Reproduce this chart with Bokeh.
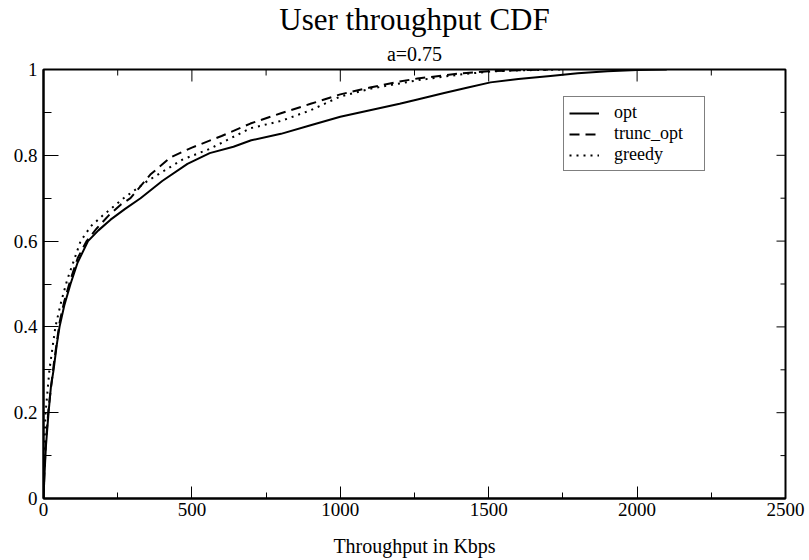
from bokeh.plotting import figure
from bokeh.models import Title, LinearAxis, FixedTicker, Legend, LegendItem, Range1d
from bokeh.embed import file_html
from bokeh.resources import INLINE

# ---- data ----
opt_x = [0, 3, 8, 17, 25, 34, 45, 54, 70, 91, 115, 150, 185, 226, 275, 327, 400, 485, 560,
         640, 700, 800, 900, 1000, 1100, 1200, 1260, 1350, 1430, 1506, 1600, 1708, 1800,
         1900, 2000, 2100]
opt_y = [0, 0.05, 0.12, 0.2, 0.26, 0.3, 0.36, 0.4, 0.45, 0.5, 0.55, 0.6, 0.625, 0.65, 0.675,
         0.7, 0.74, 0.78, 0.805, 0.82, 0.835, 0.85, 0.87, 0.89, 0.905, 0.92, 0.93, 0.945,
         0.958, 0.97, 0.978, 0.985, 0.991, 0.996, 0.999, 1.0]

trunc_x = [0, 3, 8, 17, 34, 54, 70, 91, 115, 145, 180, 220, 260, 293, 360, 428, 500, 600,
           697, 800, 900, 1000, 1100, 1200, 1260, 1394, 1500, 1600, 1700]
trunc_y = [0, 0.06, 0.13, 0.21, 0.31, 0.41, 0.46, 0.51, 0.56, 0.6, 0.63, 0.66, 0.685, 0.7,
           0.755, 0.795, 0.818, 0.845, 0.874, 0.898, 0.92, 0.942, 0.958, 0.972, 0.979, 0.99,
           0.996, 0.998, 1.0]

greedy_x = [0, 2, 7, 20, 40, 60, 80, 100, 125, 160, 200, 270, 350, 468, 560, 697, 800, 900,
            1000, 1100, 1260, 1400, 1500, 1600, 1750]
greedy_y = [0, 0.1, 0.2, 0.3, 0.4, 0.46, 0.51, 0.55, 0.6, 0.635, 0.66, 0.7, 0.74, 0.79,
            0.815, 0.863, 0.88, 0.905, 0.937, 0.955, 0.975, 0.988, 0.995, 0.998, 1.0]

x_ticks = [0, 500, 1000, 1500, 2000, 2500]
x_minor = [250, 750, 1250, 1750, 2250]
y_ticks = [0, 0.2, 0.4, 0.6, 0.8, 1]
y_minor = [0.1, 0.3, 0.5, 0.7, 0.9]
y_labels = ["0", "0.2", "0.4", "0.6", "0.8", "1"]

FONT = "Liberation Serif"
W, H = 809, 560
ML, MR, MT, MB = 43, 24, 69, 62
FW, FH = W - ML - MR, H - MT - MB
X0, X1, Y0, Y1 = 0, 2500, 0, 1

p = figure(width=W, height=H, output_backend="svg", toolbar_location=None,
           x_range=Range1d(X0, X1), y_range=Range1d(Y0, Y1),
           min_border_left=ML, min_border_right=MR, min_border_top=MT, min_border_bottom=MB,
           x_axis_type=None, y_axis_type=None)
p.background_fill_color = "white"
p.border_fill_color = "white"
p.outline_line_color = "black"
p.outline_line_width = 2
p.xgrid.visible = False
p.ygrid.visible = False

# titles
p.title.text = "User throughput CDF"
p.title.align = "center"
p.title.text_font = FONT
p.title.text_font_size = "31px"
p.title.text_font_style = "normal"
p.title.text_color = "black"
p.title.standoff = -3
p.add_layout(Title(text="a=0.75", align="center", text_font=FONT, text_color="black",
                   text_font_size="20px", text_font_style="normal", standoff=10), "above")

def style_axis(ax, tin, tmin):
    ax.axis_line_width = 2
    ax.axis_line_color = "black"
    ax.major_tick_in = tin
    ax.major_tick_out = 0
    ax.minor_tick_in = tmin
    ax.minor_tick_out = 0
    ax.major_tick_line_width = 1
    ax.minor_tick_line_width = 1
    ax.major_tick_line_color = "black"
    ax.minor_tick_line_color = "black"
    ax.major_label_text_font = FONT
    ax.major_label_text_font_size = "19px"
    ax.major_label_text_color = "black"
    ax.axis_label_text_font = FONT
    ax.axis_label_text_font_style = "normal"
    ax.axis_label_text_color = "black"

xb = LinearAxis(ticker=FixedTicker(ticks=x_ticks, minor_ticks=x_minor))
style_axis(xb, 12, 6)
xb.major_label_standoff = 4
xb.axis_label = "Throughput in Kbps"
xb.axis_label_text_font_size = "20px"
xb.axis_label_standoff = 16
p.add_layout(xb, "below")

yl = LinearAxis(ticker=FixedTicker(ticks=y_ticks, minor_ticks=y_minor))
style_axis(yl, 15, 8)
yl.major_label_standoff = 6
yl.major_label_overrides = {t: s for t, s in zip(y_ticks, y_labels)}
p.add_layout(yl, "left")

# mirrored inward ticks on the top and right edges of the frame
dx_per_px = (X1 - X0) / FW
dy_per_px = (Y1 - Y0) / FH
p.segment(x0=x_ticks, y0=[Y1] * len(x_ticks), x1=x_ticks,
          y1=[Y1 - 12 * dy_per_px] * len(x_ticks), line_color="black", line_width=1)
p.segment(x0=x_minor, y0=[Y1] * len(x_minor), x1=x_minor,
          y1=[Y1 - 6 * dy_per_px] * len(x_minor), line_color="black", line_width=1)
p.segment(x0=[X1] * len(y_ticks), y0=y_ticks, x1=[X1 - 9 * dx_per_px] * len(y_ticks),
          y1=y_ticks, line_color="black", line_width=1)
p.segment(x0=[X1] * len(y_minor), y0=y_minor, x1=[X1 - 5 * dx_per_px] * len(y_minor),
          y1=y_minor, line_color="black", line_width=1)

r1 = p.line(opt_x, opt_y, line_color="black", line_width=2)
r2 = p.line(trunc_x, trunc_y, line_color="black", line_width=2, line_dash="10 6")
r3 = p.line(greedy_x, greedy_y, line_color="black", line_width=2, line_dash="2 5")

legend = Legend(items=[LegendItem(label="opt", renderers=[r1]),
                       LegendItem(label="trunc_opt", renderers=[r2]),
                       LegendItem(label="greedy", renderers=[r3])],
                location=(520, 327))
legend.label_text_font = FONT
legend.label_text_font_size = "18px"
legend.label_text_color = "black"
legend.glyph_width = 30
legend.glyph_height = 18
legend.label_height = 18
legend.label_width = 85
legend.spacing = 0
legend.padding = 5
legend.margin = 0
legend.label_standoff = 15
legend.border_line_color = "black"
legend.border_line_width = 1
legend.background_fill_alpha = 1
p.add_layout(legend, "center")

open("out.html", "w").write(file_html(p, INLINE))
